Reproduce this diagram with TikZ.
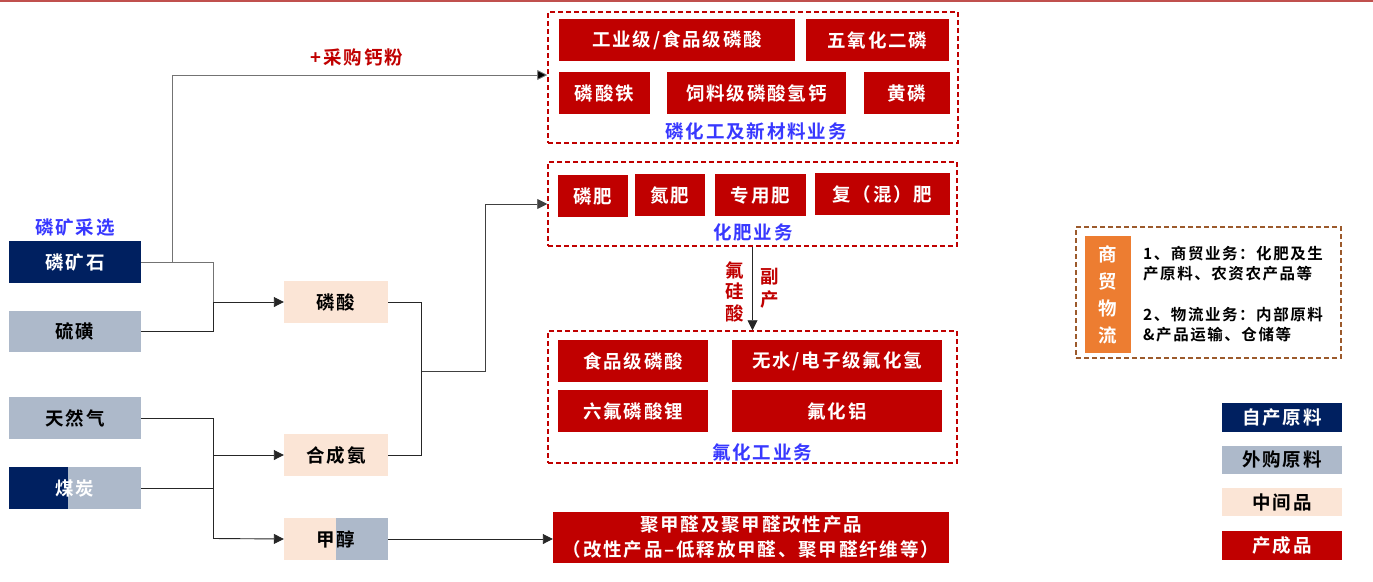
\documentclass[tikz,border=0pt]{standalone}
\usepackage{fontspec}
\setmainfont{Noto Sans CJK SC}[BoldFont={Noto Sans CJK SC Bold}]
\newfontfamily\cjkb{Noto Sans CJK SC Bold}[LetterSpace=10]
\usetikzlibrary{arrows.meta}
\definecolor{navy}{HTML}{002060}
\definecolor{greyb}{HTML}{ADB9CA}
\definecolor{peach}{HTML}{FBE5D6}
\definecolor{prodred}{HTML}{C00000}
\definecolor{orng}{HTML}{ED7D31}
\definecolor{brn}{HTML}{9C5A2C}
\definecolor{topred}{HTML}{C0504D}
\definecolor{lblue}{HTML}{3838FF}
\newcommand\boxfnt{\fontsize{18.5pt}{22pt}\cjkb}
\tikzset{
  base/.style={inner sep=0pt, minimum height=42pt, align=center, font=\boxfnt},
  own/.style={base, fill=navy, text=white},
  buy/.style={base, fill=greyb, text=black},
  mid/.style={base, fill=peach, text=black},
  prod/.style={base, fill=prodred, text=white},
  frame/.style={draw=prodred, dashed, dash pattern=on 5pt off 3pt, line width=1.5pt, inner sep=0pt},
  bizlbl/.style={text=lblue, font=\boxfnt, inner sep=0pt},
  conn/.style={line width=0.9pt, draw=black!85},
  arr/.style={conn, -{Triangle[length=10pt, width=10pt]}},
}
\begin{document}
\begin{tikzpicture}[x=1pt, y=-1pt]
\useasboundingbox (0,0) rectangle (1373,581);
\fill[topred] (0,0) rectangle (1373,2);

% left column
\node[bizlbl] (minelbl) at (75,228) {磷矿采选};
\node[own, minimum width=132pt] (ore) at (75,262) {磷矿石};
\node[buy, minimum width=132pt, minimum height=41pt] (sulfur) at (75,331.5) {硫磺};
\node[buy, minimum width=132pt] (gas) at (75,418) {天然气};
\node[buy, minimum width=132pt, text=white,
  path picture={\fill[navy] (path picture bounding box.north west) rectangle ([xshift=59pt]path picture bounding box.south west);}] (coal) at (75,488) {煤炭};

% intermediates
\node[mid, minimum width=104pt] (pa) at (336,302) {磷酸};
\node[mid, minimum width=104pt] (nh3) at (336,455) {合成氨};
\node[mid, minimum width=104pt,
  path picture={\fill[greyb] ([xshift=52pt]path picture bounding box.south west) rectangle (path picture bounding box.north east);}] (meoh) at (336,539) {甲醇};

% phosphorus chemical business
\node[frame, minimum width=410pt, minimum height=131pt] (phosbiz) at (753,77.5) {};
\node[prod, minimum width=236pt] (p1) at (677,40) {工业级/食品级磷酸};
\node[prod, minimum width=143pt] (p2) at (877.5,40) {五氧化二磷};
\node[prod, minimum width=91pt] (p3) at (604.5,93) {磷酸铁};
\node[prod, minimum width=179pt] (p4) at (756.5,93) {饲料级磷酸氢钙};
\node[prod, minimum width=86pt] (p5) at (907,93) {黄磷};
\node[bizlbl] (phoslbl) at (756,131) {磷化工及新材料业务};

% fertilizer business
\node[frame, minimum width=409pt, minimum height=84pt] (fert) at (752.5,204) {};
\node[prod, minimum width=70pt] (f1) at (593,196) {磷肥};
\node[prod, minimum width=70pt] (f2) at (670,195) {氮肥};
\node[prod, minimum width=91pt] (f3) at (760.5,195) {专用肥};
\node[prod, minimum width=135pt] (f4) at (882.5,194) {复（混）肥};
\node[bizlbl] (fertlbl) at (753,232) {化肥业务};

% fluorine business
\node[frame, minimum width=409pt, minimum height=132pt] (fluor) at (752.5,397) {};
\node[prod, minimum width=150pt] (c1) at (633,361) {食品级磷酸};
\node[prod, minimum width=210pt] (c2) at (837,361) {无水/电子级氟化氢};
\node[prod, minimum width=150pt] (c3) at (633,411) {六氟磷酸锂};
\node[prod, minimum width=210pt] (c4) at (837,411) {氟化铝};
\node[bizlbl] (fluorlbl) at (762,452) {氟化工业务};

% POM
\node[prod, minimum width=396pt, minimum height=51pt, font=\fontsize{18.5pt}{25pt}\cjkb] (pom) at (751,537.5) {聚甲醛及聚甲醛改性产品\\（改性产品–低释放甲醛、聚甲醛纤维等）};

% labels
\node[text=prodred, font=\boxfnt, inner sep=0pt] (calc) at (357,57) {+采购钙粉};
\node[text=prodred, font=\fontsize{18.5pt}{21.5pt}\cjkb, align=center, inner sep=0pt] (fsa) at (735,291.5) {氟\\硅\\酸};
\node[text=prodred, font=\fontsize{18.5pt}{23pt}\cjkb, align=center, inner sep=0pt] (byp) at (770,288.5) {副\\产};

% trade & logistics
\node[draw=brn, dashed, dash pattern=on 5pt off 3pt, line width=1.5pt, minimum width=265pt, minimum height=131pt, inner sep=0pt] (trade) at (1208.5,292.5) {};
\node[fill=orng, text=white, minimum width=46pt, minimum height=117pt, inner sep=0pt, align=center, font=\fontsize{18.5pt}{27pt}\cjkb] (tradelbl) at (1108,294.5) {商\\贸\\物\\流};
\node[anchor=west, align=left, inner sep=0pt, font=\fontsize{15.5pt}{20.5pt}\cjkb] (tradetxt) at (1143,294) {1、商贸业务：化肥及生\\产原料、农资农产品等\\[20pt]2、物流业务：内部原料\\\&产品运输、仓储等};

% legend
\node[own, minimum width=120pt, minimum height=29pt] (lg1) at (1282,417.5) {自产原料};
\node[buy, minimum width=120pt, minimum height=28pt] (lg2) at (1282,459.5) {外购原料};
\node[mid, minimum width=120pt, minimum height=28pt] (lg3) at (1282,502) {中间品};
\node[prod, minimum width=120pt, minimum height=29pt] (lg4) at (1282,545.5) {产成品};

% connectors
\coordinate (j1) at (213,302);
\coordinate (t1) at (172,262);
\draw[conn, draw=black!55] (ore.east) -| (j1);
\draw[conn] (sulfur.east) -| (j1);
\draw[arr] (j1) -- (pa.west);
\draw[arr, draw=black!55, -{Triangle[length=10pt, width=10pt, fill=black]}] (t1) |- ([yshift=2.5pt]phosbiz.west);

\coordinate (j2) at (213,455);
\coordinate (j3) at (213,538.5);
\draw[conn] (gas.east) -| (j3);
\draw[conn] (coal.east) -- (coal.east -| j3);
\draw[arr] (j2) -- (nh3.west);
\draw[arr] (j3) -- (meoh.west);

\coordinate (j4) at (421.5,371);
\coordinate (j5) at (485,371);
\draw[conn] (pa.east) -| (j4);
\draw[conn] (nh3.east) -| (j4);
\draw[arr, draw=black!75] (j4) -- (j5) |- (fert.west);
\draw[arr] (fert.south) -- (fluor.north);
\draw[arr] (meoh.east) -- (meoh.east -| pom.west);
\end{tikzpicture}
\end{document}
